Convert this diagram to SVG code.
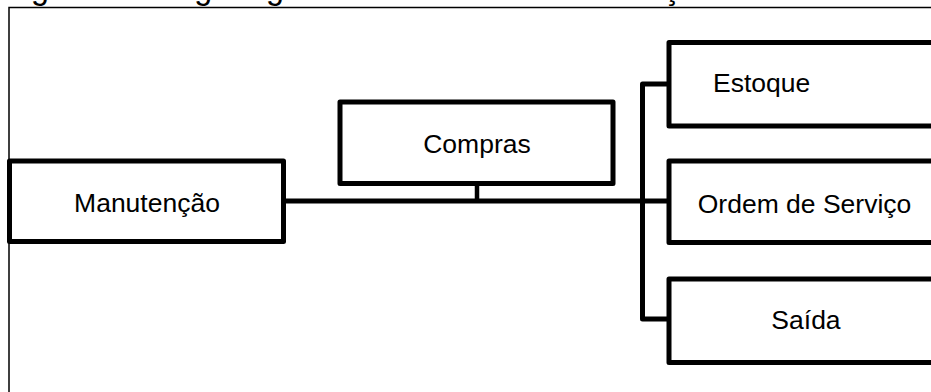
<svg xmlns="http://www.w3.org/2000/svg" width="931" height="392" viewBox="0 0 931 392">
<style>
.box{fill:#fff;stroke:#000;stroke-width:5;stroke-linejoin:round}
.lbl{font-family:"Liberation Sans",Arial,sans-serif;font-size:26.5px;fill:#000}
.con{fill:none;stroke:#000;stroke-width:5;stroke-linejoin:round;stroke-linecap:butt}
.frame{fill:none;stroke:#000;stroke-width:1.5}
</style>
<rect width="931" height="392" fill="#fff"/>
<text x="4" y="-1" style="font-family:'Liberation Sans',Arial,sans-serif;font-size:32.3px;fill:#000">Figura 1 – Organograma do setor de Manutenção</text>
<polyline class="frame" points="9,392 9,7.5 931,7.5"/>
<g id="connectors">
<line class="con" x1="283" y1="201" x2="669" y2="201"/>
<line class="con" x1="477" y1="183" x2="477" y2="201" style="stroke-width:4.5"/>
<polyline class="con" points="669,84 642.5,84 642.5,319 669,319"/>
</g>
<g id="manutencao">
<rect class="box" x="9.5" y="161" width="274" height="80.5"/>
<text class="lbl" x="147" y="212" text-anchor="middle">Manutenção</text>
</g>
<g id="compras">
<rect class="box" x="340" y="102" width="273" height="81.5"/>
<text class="lbl" x="477" y="153" text-anchor="middle">Compras</text>
</g>
<g id="estoque">
<rect class="box" x="669" y="42.5" width="280" height="83.5"/>
<text class="lbl" x="713" y="92">Estoque</text>
</g>
<g id="ordem">
<rect class="box" x="669" y="161" width="280" height="81.5"/>
<text class="lbl" x="804.5" y="213" text-anchor="middle">Ordem de Serviço</text>
</g>
<g id="saida">
<rect class="box" x="669" y="279" width="280" height="83.5"/>
<text class="lbl" x="806" y="328.5" text-anchor="middle">Saída</text>
</g>
</svg>
